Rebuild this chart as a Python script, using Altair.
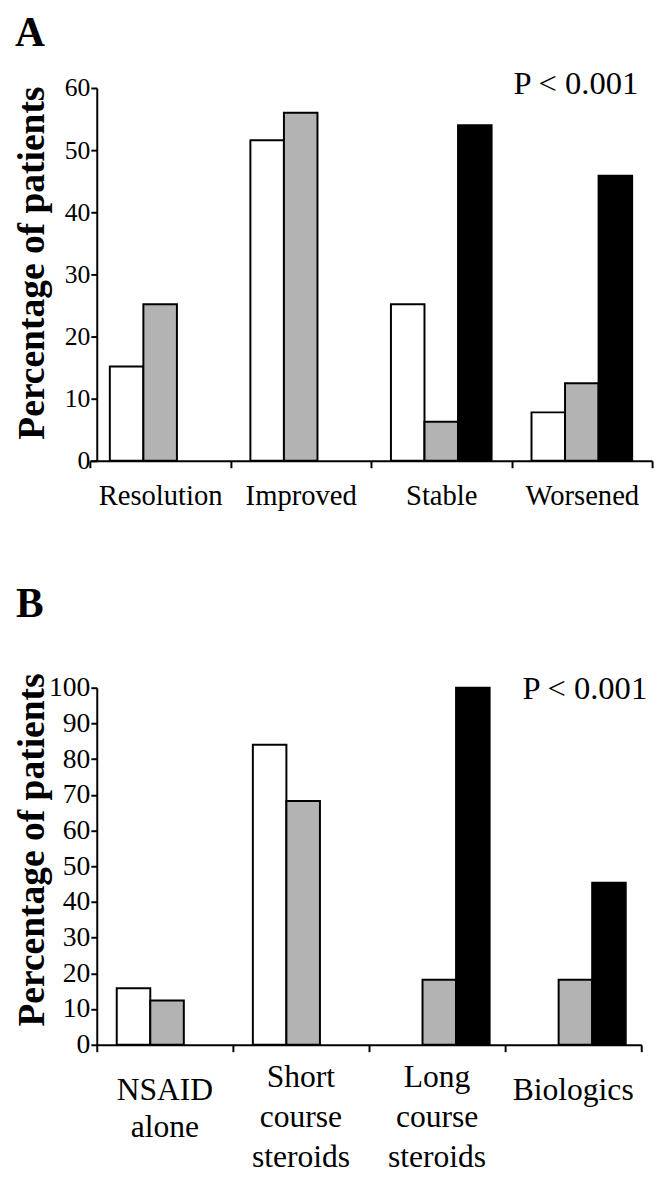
import altair as alt
import pandas as pd

# ---- data ----
series_names = ["Group 1", "Group 2", "Group 3"]

a_categories = ["Resolution", "Improved", "Stable", "Worsened"]
a_series1 = [15.2, 51.6, 25.2, 7.8]
a_series2 = [25.2, 56.0, 6.3, 12.5]
a_series3 = [None, None, 54.0, 45.9]
a_ticks = [0, 10, 20, 30, 40, 50, 60]

b_categories = ["NSAID alone", "Short course steroids", "Long course steroids", "Biologics"]
b_series1 = [15.8, 84.0, None, None]
b_series2 = [12.4, 68.3, 18.2, 18.2]
b_series3 = [None, None, 100.0, 45.4]
b_ticks = [0, 10, 20, 30, 40, 50, 60, 70, 80, 90, 100]

a_colors = ["#ffffff", "#b3b3b3", "#000000"]
b_colors = ["#ffffff", "#b3b3b3", "#222222"]

p_text = "P < 0.001"
y_title = "Percentage of patients"
FONT = "Liberation Serif"


def long_df(cats, s1, s2, s3):
    rows = []
    for name, vals in zip(series_names, [s1, s2, s3]):
        for c, v in zip(cats, vals):
            rows.append({"category": c, "series": name, "value": v})
    return pd.DataFrame(rows)


def panel(cats, s1, s2, s3, colors, ymax, yticks, letter, width, height,
          xrange, po, align, label_size, tick_label_size, label_padding,
          title_padding, title_y, letter_xy, p_xy, multiline):
    df = long_df(cats, s1, s2, s3)
    xscale = alt.Scale(domain=cats, range=xrange, paddingInner=0, paddingOuter=0)
    xaxis = alt.Axis(
        title=None, labelAngle=0, labelFont=FONT, labelFontSize=label_size,
        labelColor="black", labelPadding=label_padding, labelBaseline="top",
        labelOverlap=False, labelLimit=300, labels=not multiline,
        domainColor="black", domainWidth=2, tickColor="black", tickWidth=2,
        tickSize=7, tickBand="extent",
    )
    yaxis = alt.Axis(
        values=yticks, title=y_title, titleFont=FONT, titleFontSize=38,
        titleFontWeight="bold", titleColor="black", titlePadding=title_padding,
        titleY=title_y,
        labelFont=FONT, labelFontSize=tick_label_size, labelColor="black",
        labelPadding=1, labelOverlap=False, grid=False,
        domainColor="black", domainWidth=2, tickColor="black", tickWidth=2,
        tickSize=6,
    )
    bars = alt.Chart(df).transform_filter("isValid(datum.value)").mark_bar(
        stroke="black", strokeWidth=2
    ).encode(
        x=alt.X("category:N", sort=cats, scale=xscale, axis=xaxis),
        xOffset=alt.XOffset("series:N",
                            scale=alt.Scale(domain=series_names, paddingInner=0,
                                            paddingOuter=po, align=align)),
        y=alt.Y("value:Q", scale=alt.Scale(domain=[0, ymax], nice=False), axis=yaxis),
        fill=alt.Fill("series:N", scale=alt.Scale(domain=series_names, range=colors),
                      legend=None),
    )
    letter_mark = alt.Chart(pd.DataFrame({"t": [letter]})).mark_text(
        font=FONT, fontSize=42, fontWeight="bold", align="left",
        baseline="top", color="black"
    ).encode(text="t:N", x=alt.value(letter_xy[0]), y=alt.value(letter_xy[1]))
    p_mark = alt.Chart(pd.DataFrame({"t": [p_text]})).mark_text(
        font=FONT, fontSize=33, align="right", baseline="alphabetic", color="black"
    ).encode(text="t:N", x=alt.value(p_xy[0]), y=alt.value(p_xy[1]))
    layers = [bars, letter_mark, p_mark]
    if multiline:
        cat_df = pd.DataFrame({"category": cats})
        # three-line labels start higher than the one/two-line labels
        lbl3 = alt.Chart(cat_df).transform_filter(
            "length(split(datum.category, ' ')) == 3"
        ).mark_text(
            font=FONT, fontSize=label_size, lineBreak=" ", lineHeight=40.5,
            baseline="top", align="center", color="black"
        ).encode(x=alt.X("category:N", sort=cats, scale=xscale, axis=xaxis),
                 text="category:N", y=alt.value(height + 18))
        lbl12 = alt.Chart(cat_df).transform_filter(
            "length(split(datum.category, ' ')) < 3"
        ).mark_text(
            font=FONT, fontSize=label_size, lineBreak=" ", lineHeight=38,
            baseline="top", align="center", color="black"
        ).encode(x=alt.X("category:N", sort=cats, scale=xscale, axis=xaxis),
                 text="category:N", y=alt.value(height + 31))
        layers += [lbl3, lbl12]
    return alt.layer(*layers).properties(width=width, height=height)


chart_a = panel(a_categories, a_series1, a_series2, a_series3, a_colors, 60, a_ticks,
                "A", 563, 378, [-7, 563], 0.595, 0.5, 29, 26, 14, 13, 177,
                (-83, -76), (549, 6), False)
chart_b = panel(b_categories, b_series1, b_series2, b_series3, b_colors, 100, b_ticks,
                "B", 552, 362, [0, 552], 0.656, 0.41, 32, 28, 12, -3, 164,
                (-82, -105), (558, 11), True)

chart = alt.vconcat(chart_a, chart_b, spacing=74).properties(
    padding={"left": 5, "top": -4, "right": 0, "bottom": 0}, background="white"
).configure_view(stroke=None)

chart.save("out.html", embed_options={"renderer": "svg", "actions": False})
